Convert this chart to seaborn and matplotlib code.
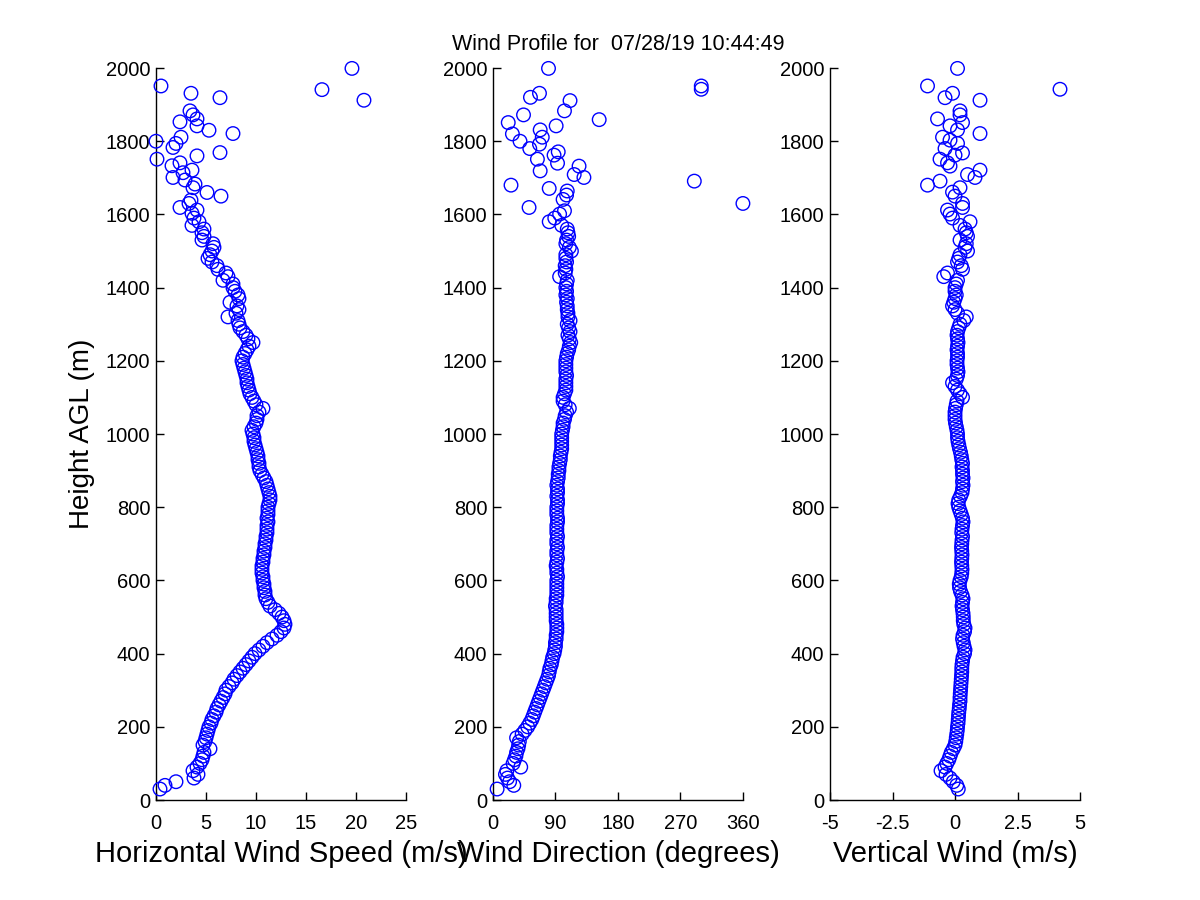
import matplotlib
matplotlib.use("Agg")
import matplotlib.pyplot as plt
import seaborn as sns
import pandas as pd

# range gates of the dense lower part (m AGL)
heights_low = [
    30, 40, 50, 60, 70, 80, 90,
    100, 110, 120, 130, 140, 150, 160, 170, 180, 190,
    200, 210, 220, 230, 240, 250, 260, 270, 280, 290,
    300, 310, 320, 330, 340, 350, 360, 370, 380, 390,
    400, 410, 420, 430, 440, 450, 460, 470, 480, 490,
    500, 510, 520, 530, 540, 550, 560, 570, 580, 590,
    600, 610, 620, 630, 640, 650, 660, 670, 680, 690,
    700, 710, 720, 730, 740, 750, 760, 770, 780, 790,
    800, 810, 820, 830, 840, 850, 860, 870, 880, 890,
    900, 910, 920, 930, 940, 950, 960, 970, 980, 990,
    1000, 1010, 1020, 1030, 1040, 1050, 1060, 1070, 1080, 1090,
    1100, 1110, 1120, 1130, 1140, 1150, 1160, 1170, 1180, 1190,
    1200, 1210, 1220, 1230, 1240, 1250, 1260, 1270, 1280, 1290,
    1300, 1310, 1320, 1330, 1340, 1350, 1360, 1370, 1380, 1390,
    1400, 1410, 1420, 1430, 1440, 1450, 1460, 1470, 1480, 1490,
    1500, 1510, 1520, 1530, 1540, 1550, 1560, 1570, 1580, 1590,
]

speed_low = [
    0.4, 0.9, 2.0, 3.8, 4.2, 3.7, 4.1,
    4.4, 4.6, 4.7, 4.8, 5.4, 4.7, 4.9, 5.0, 5.1, 5.2,
    5.3, 5.5, 5.6, 5.8, 6.0, 6.1, 6.3, 6.5, 6.7, 6.9,
    7.0, 7.3, 7.6, 7.8, 8.1, 8.4, 8.7, 9.0, 9.3, 9.6,
    9.9, 10.3, 10.7, 11.1, 11.6, 12.1, 12.5, 12.8, 12.9, 12.8,
    12.6, 12.3, 11.9, 11.4, 11.2, 11.0, 10.9, 10.9, 10.8, 10.8,
    10.7, 10.7, 10.6, 10.6, 10.6, 10.7, 10.7, 10.8, 10.8, 10.9,
    10.9, 11.0, 11.0, 11.1, 11.1, 11.1, 11.2, 11.1, 11.2, 11.2,
    11.2, 11.3, 11.4, 11.4, 11.3, 11.2, 11.1, 11.0, 10.8, 10.6,
    10.4, 10.3, 10.3, 10.2, 10.2, 10.1, 10.0, 9.9, 9.8, 9.8,
    9.7, 9.6, 9.8, 10.0, 10.1, 10.1, 10.3, 10.7, 10.0, 9.8,
    9.6, 9.4, 9.3, 9.2, 9.1, 9.1, 9.0, 8.9, 8.8, 8.7,
    8.6, 8.7, 8.9, 9.1, 9.3, 9.7, 9.2, 9.0, 8.7, 8.4,
    8.3, 8.2, 7.2, 8.0, 8.3, 8.1, 7.4, 8.3, 8.2, 7.9,
    7.7, 7.7, 6.7, 7.2, 7.0, 6.2, 6.1, 5.6, 5.2, 5.4,
    5.6, 5.8, 5.7, 4.6, 4.8, 4.6, 4.8, 3.6, 4.3, 3.8,
]

direction_low = [
    6, 30, 24, 21, 18, 20, 40,
    29, 31, 33, 34, 36, 37, 38, 34, 42, 46,
    50, 53, 56, 58, 60, 62, 64, 66, 68, 70,
    72, 74, 76, 78, 80, 81, 82, 84, 85, 86,
    88, 89, 90, 90, 91, 91, 92, 92, 92, 91,
    91, 91, 91, 90, 91, 91, 92, 92, 92, 92,
    92, 93, 92, 92, 91, 92, 93, 92, 92, 93,
    92, 92, 93, 92, 92, 92, 93, 93, 92, 92,
    92, 93, 93, 92, 93, 93, 92, 93, 94, 94,
    95, 95, 96, 97, 97, 98, 99, 99, 99, 99,
    99, 100, 101, 101, 103, 104, 106, 110, 104, 101,
    101, 103, 105, 105, 105, 105, 106, 105, 105, 105,
    105, 106, 107, 109, 110, 112, 110, 108, 111, 109,
    107, 111, 108, 108, 107, 107, 106, 107, 105, 106,
    105, 106, 107, 96, 104, 105, 104, 106, 105, 105,
    113, 110, 105, 106, 109, 108, 107, 99, 81, 89,
]

vertical_low = [
    0.13, 0.07, -0.07, -0.2, -0.36, -0.56, -0.4,
    -0.33, -0.25, -0.2, -0.15, -0.07, 0.0, 0.03, 0.05, 0.07, 0.09,
    0.1, 0.12, 0.13, 0.14, 0.15, 0.17, 0.18, 0.2, 0.2, 0.21,
    0.22, 0.23, 0.24, 0.25, 0.26, 0.27, 0.27, 0.28, 0.3, 0.32,
    0.38, 0.4, 0.36, 0.33, 0.3, 0.32, 0.38, 0.4, 0.35, 0.33,
    0.33, 0.32, 0.3, 0.28, 0.3, 0.32, 0.28, 0.22, 0.18, 0.17,
    0.2, 0.25, 0.27, 0.28, 0.27, 0.26, 0.27, 0.28, 0.27, 0.26,
    0.27, 0.28, 0.3, 0.27, 0.28, 0.3, 0.32, 0.3, 0.25, 0.2,
    0.15, 0.12, 0.15, 0.22, 0.28, 0.3, 0.32, 0.3, 0.32, 0.3,
    0.3, 0.28, 0.3, 0.27, 0.25, 0.22, 0.18, 0.15, 0.12, 0.1,
    0.1, 0.08, 0.05, 0.02, 0.0, 0.0, 0.0, 0.02, 0.05, 0.08,
    0.3, 0.2, 0.1, 0.0, -0.1, 0.05, 0.1, 0.12, 0.1, 0.08,
    0.08, 0.1, 0.1, 0.08, 0.1, 0.12, 0.1, 0.08, 0.1, 0.15,
    0.2, 0.35, 0.45, 0.1, 0.0, -0.1, -0.05, 0.0, 0.05, 0.0,
    0.0, 0.05, 0.1, -0.45, -0.3, 0.3, 0.25, 0.1, 0.15, 0.2,
    0.5, 0.4, 0.45, 0.2, 0.5, 0.45, 0.4, 0.2, 0.6, -0.1,
]

# scattered gates above ~1600 m
speed_up_h = [1603, 1612, 1619, 1630, 1639, 1650, 1660, 1673, 1683, 1694,
              1701, 1714, 1721, 1733, 1741, 1751, 1760, 1769, 1783, 1794,
              1800, 1811, 1821, 1830, 1842, 1853, 1861, 1872, 1883, 1912,
              1919, 1931, 1941, 1951, 1999]
speed_up = [3.6, 4.1, 2.4, 3.3, 3.5, 6.5, 5.1, 3.7, 3.9, 2.9,
            1.7, 2.7, 3.6, 1.6, 2.4, 0.1, 4.1, 6.4, 1.7, 2.0,
            0.0, 2.5, 7.7, 5.3, 4.1, 2.4, 4.1, 3.7, 3.4, 20.8,
            6.4, 3.5, 16.6, 0.5, 19.6]

direction_up_h = [1601, 1610, 1619, 1630, 1641, 1653, 1664, 1671, 1680, 1691,
                  1701, 1709, 1719, 1732, 1740, 1751, 1762, 1771, 1780, 1792,
                  1800, 1811, 1820, 1831, 1842, 1851, 1859, 1872, 1883, 1911,
                  1920, 1931, 1942, 1951, 1999]
direction_up = [96, 103, 52, 360, 101, 106, 107, 81, 26, 290,
                131, 117, 68, 124, 93, 64, 88, 94, 53, 67,
                39, 71, 28, 68, 91, 22, 153, 44, 103, 111,
                54, 67, 300, 300, 80]

vertical_up_h = [1601, 1612, 1619, 1630, 1650, 1661, 1673, 1680, 1691, 1701,
                 1709, 1721, 1732, 1741, 1751, 1762, 1768, 1780, 1794, 1803,
                 1811, 1821, 1831, 1842, 1851, 1861, 1872, 1883, 1912, 1919,
                 1931, 1942, 1951, 1999]
vertical_up = [-0.2, -0.3, 0.3, 0.3, 0.0, -0.1, 0.2, -1.1, -0.6, 0.8,
               0.5, 1.0, -0.2, -0.3, -0.6, 0.0, 0.3, -0.4, 0.1, -0.2,
               -0.5, 1.0, 0.1, -0.2, 0.3, -0.7, 0.2, 0.2, 1.0, -0.4,
               -0.1, 4.2, -1.1, 0.1]

speed_ticks = [0, 5, 10, 15, 20, 25]
direction_ticks = [0, 90, 180, 270, 360]
vertical_ticks = [-5, -2.5, 0, 2.5, 5]
vertical_ticklabels = ["-5", "-2.5", "0", "2.5", "5"]
height_ticks = list(range(0, 2001, 200))

title_text = "Wind Profile for  07/28/19 10:44:49"

sns.set_style("white")
plt.rcParams["font.family"] = ["Liberation Sans", "DejaVu Sans"]
plt.rcParams["text.color"] = "black"
plt.rcParams["axes.labelcolor"] = "black"
plt.rcParams["xtick.direction"] = "in"
plt.rcParams["ytick.direction"] = "in"

panels = [
    (heights_low + speed_up_h, speed_low + speed_up, (0, 25), speed_ticks, None,
     "Horizontal Wind Speed (m/s)", 0.13),
    (heights_low + direction_up_h, direction_low + direction_up, (0, 360), direction_ticks, None,
     "Wind Direction (degrees)", 0.4108),
    (heights_low + vertical_up_h, vertical_low + vertical_up, (-5, 5), vertical_ticks, vertical_ticklabels,
     "Vertical Wind (m/s)", 0.6917),
]

fig = plt.figure(figsize=(12, 9), dpi=100)
axes = []
for h, v, xlim, xticks, xticklabels, xlabel, left in panels:
    ax = fig.add_axes([left, 0.1111, 0.2083, 0.8133])
    df = pd.DataFrame({"value": v, "height": h})
    sns.scatterplot(data=df, x="value", y="height", ax=ax, marker="o", s=95,
                    facecolors="none", edgecolor="blue", linewidth=1.0,
                    clip_on=False, zorder=3)
    ax.set_xlim(*xlim)
    ax.set_ylim(0, 2000)
    ax.set_xticks(xticks)
    if xticklabels:
        ax.set_xticklabels(xticklabels)
    ax.set_yticks(height_ticks)
    ax.tick_params(bottom=True, left=True, labelsize=14.5, length=5.5, width=1,
                   colors="black", pad=4)
    ax.tick_params(axis="x", pad=10)
    ax.set_xlabel(xlabel, fontsize=21, labelpad=5)
    ax.set_ylabel("")
    for side in ["top", "right"]:
        ax.spines[side].set_visible(False)
    for side in ["left", "bottom"]:
        ax.spines[side].set_color("black")
        ax.spines[side].set_linewidth(1)
    ax.set_facecolor("white")
    axes.append(ax)

axes[0].set_ylabel("Height AGL (m)", fontsize=20, labelpad=8)
axes[1].set_title(title_text, fontsize=15.5, pad=13)

fig.savefig("out.png", dpi=100, facecolor="white")
